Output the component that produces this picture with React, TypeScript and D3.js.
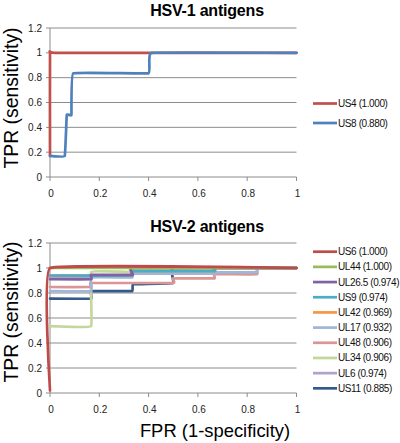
import React from "react";
import * as d3 from "d3";

// ---------- data ----------
const yTicks = [0, 0.2, 0.4, 0.6, 0.8, 1, 1.2];
const xTicks = [0, 0.2, 0.4, 0.6, 0.8, 1];

// HSV-1
const hsv1Names = ["US4 (1.000)", "US8 (0.880)"];
const hsv1Colors = ["#C0504D", "#4F81BD"];
const us4X = [0, 0, 0.02, 1];
const us4Y = [0.17, 1, 1, 1];
const us8X = [0, 0.06, 0.068, 0.087, 0.094, 0.4, 0.412, 1];
const us8Y = [0.17, 0.17, 0.5, 0.5, 0.835, 0.835, 1, 1];

// HSV-2
const hsv2Names = [
  "US6 (1.000)", "UL44 (1.000)", "UL26.5 (0.974)", "US9 (0.974)", "UL42 (0.969)",
  "UL17 (0.932)", "UL48 (0.906)", "UL34 (0.906)", "UL6 (0.974)", "US11 (0.885)",
];
const hsv2Colors = [
  "#BE4B48", "#9BBB59", "#7E62A1", "#4BACC6", "#F79646",
  "#9FB5DA", "#D99694", "#C3D69B", "#B3A2C7", "#34598A",
];
const us6X = [0, 0, 1];
const us6Y = [0.02, 1, 1];
const ul44X = [0, 1];
const ul44Y = [1, 1];
const ul265X = [0, 0.167, 0.167, 0.335, 0.335, 1];
const ul265Y = [0.91, 0.91, 0.945, 0.945, 1, 1];
const us9X = [0, 0.333, 0.333, 0.667, 0.667, 1];
const us9Y = [0.94, 0.94, 0.975, 0.975, 1, 1];
const ul42X = [0, 0.333, 0.333, 0.667, 0.667, 1];
const ul42Y = [0.94, 0.94, 0.975, 0.975, 1, 1];
const ul17X = [0, 0.167, 0.167, 0.333, 0.333, 0.667, 0.667, 0.84, 0.84, 1];
const ul17Y = [0.815, 0.815, 0.925, 0.925, 0.955, 0.955, 0.965, 0.965, 1, 1];
const ul48X = [0, 0.167, 0.167, 0.5, 0.5, 0.667, 0.667, 0.84, 0.84, 1];
const ul48Y = [0.848, 0.848, 0.88, 0.88, 0.917, 0.917, 0.95, 0.95, 1, 1];
const ul34X = [0, 0.167, 0.167, 0.333, 0.333, 1];
const ul34Y = [0.535, 0.535, 0.968, 0.968, 1, 1];
const ul6X = [0, 0.167, 0.167, 0.333, 0.333, 1];
const ul6Y = [0.925, 0.925, 0.935, 0.935, 1, 1];
const us11X = [0, 0.167, 0.167, 0.333, 0.337, 0.5, 0.5, 1];
const us11Y = [0.755, 0.755, 0.815, 0.815, 0.87, 0.88, 1, 1];

const hsv1Series = [
  { xs: us4X, ys: us4Y },
  { xs: us8X, ys: us8Y },
];
const hsv2Series = [
  { xs: us6X, ys: us6Y },
  { xs: ul44X, ys: ul44Y },
  { xs: ul265X, ys: ul265Y },
  { xs: us9X, ys: us9Y },
  { xs: ul42X, ys: ul42Y },
  { xs: ul17X, ys: ul17Y },
  { xs: ul48X, ys: ul48Y },
  { xs: ul34X, ys: ul34Y },
  { xs: ul6X, ys: ul6Y },
  { xs: us11X, ys: us11Y },
];

const FONT = "'Liberation Sans', Arial, sans-serif";
const GRID = "#8C8C8C";

type Series = { xs: number[]; ys: number[] };

function Panel(props: {
  top: number;
  bottom: number;
  title: string;
  titleY: number;
  series: Series[];
  names: string[];
  colors: string[];
  reverse: boolean;
  legendY0: number;
  legendStep: number;
  ylabelY: number;
}) {
  const x = d3.scaleLinear().domain([0, 1]).range([50, 296.5]);
  const y = d3.scaleLinear().domain([0, 1.2]).range([props.bottom, props.top]);
  const line = d3
    .line<[number, number]>()
    .x((d) => x(d[0]))
    .y((d) => y(d[1]))
    .curve(d3.curveCardinal.tension(0.82));
  const order = props.series.map((_, i) => i);
  if (props.reverse) order.reverse();
  return (
    <g>
      <text x={207} y={props.titleY} textAnchor="middle" fontFamily={FONT} fontWeight="bold" fontSize={16} letterSpacing={-0.2} fill="#000">
        {props.title}
      </text>
      {yTicks.map((t) => (
        <g key={"y" + t}>
          {t > 0 && <line x1={50} x2={296.5} y1={y(t)} y2={y(t)} stroke={GRID} strokeWidth={1} />}
          <line x1={46} x2={50} y1={y(t)} y2={y(t)} stroke={GRID} strokeWidth={1} />
          <text x={42} y={y(t) + 3.5} textAnchor="end" fontFamily={FONT} fontSize={10} fill="#222">
            {String(t)}
          </text>
        </g>
      ))}
      <line x1={50} x2={50} y1={props.top} y2={props.bottom} stroke={GRID} strokeWidth={1} />
      <line x1={50} x2={296.5} y1={props.bottom} y2={props.bottom} stroke={GRID} strokeWidth={1} />
      {xTicks.map((t) => (
        <g key={"x" + t}>
          <line x1={x(t)} x2={x(t)} y1={props.bottom} y2={props.bottom + 4} stroke={GRID} strokeWidth={1} />
          <text x={x(t) + 1} y={props.bottom + 20} textAnchor="middle" fontFamily={FONT} fontSize={10} fill="#222">
            {String(t)}
          </text>
        </g>
      ))}
      <text
        transform={`translate(18,${props.ylabelY}) rotate(-90)`}
        textAnchor="middle"
        fontFamily={FONT}
        fontSize={19.4}
        fill="#000"
      >
        TPR (sensitivity)
      </text>
      {order.map((i) => {
        const s = props.series[i];
        const pts = s.xs.map((v, k) => [v, s.ys[k]] as [number, number]);
        return (
          <path key={"s" + i} d={line(pts) || ""} fill="none" stroke={props.colors[i]} strokeWidth={2.7} strokeLinejoin="round" strokeLinecap="round" />
        );
      })}
      {props.names.map((n, i) => {
        const ly = props.legendY0 + i * props.legendStep;
        return (
          <g key={"l" + i}>
            <line x1={313} x2={337} y1={ly} y2={ly} stroke={props.colors[i]} strokeWidth={2.7} />
            <text x={338} y={ly + 3.5} fontFamily={FONT} fontSize={10} fill="#111" letterSpacing={-0.4}>
              {n}
            </text>
          </g>
        );
      })}
    </g>
  );
}

export default function App() {
  return (
    <svg width={400} height={443} style={{ position: "absolute", left: 0, top: 0, background: "#fff" }}>
      <rect x={0} y={0} width={400} height={443} fill="#fff" />
      <Panel
        top={28}
        bottom={177}
        title="HSV-1 antigens"
        titleY={16}
        series={hsv1Series}
        names={hsv1Names}
        colors={hsv1Colors}
        reverse={false}
        legendY0={103.5}
        legendStep={19.5}
        ylabelY={98}
      />
      <Panel
        top={243}
        bottom={393}
        title="HSV-2 antigens"
        titleY={232}
        series={hsv2Series}
        names={hsv2Names}
        colors={hsv2Colors}
        reverse={true}
        legendY0={251.7}
        legendStep={15.18}
        ylabelY={312}
      />
      <text x={215} y={437} textAnchor="middle" fontFamily={FONT} fontSize={18.4} fill="#000">
        FPR (1-specificity)
      </text>
    </svg>
  );
}
